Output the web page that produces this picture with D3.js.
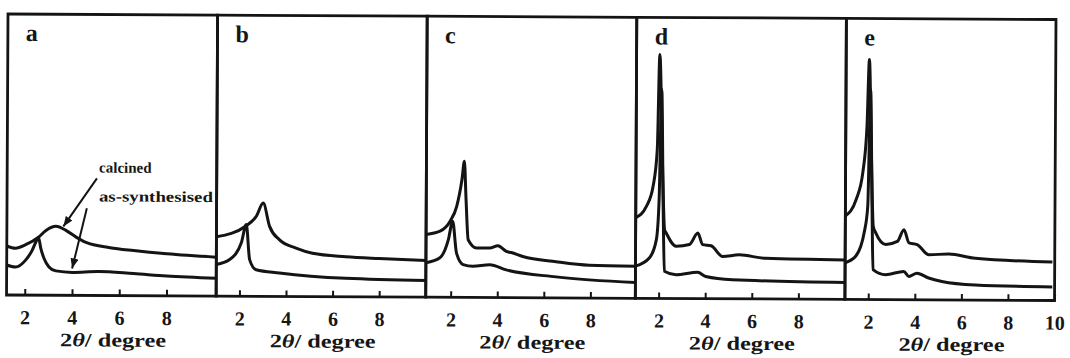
<!DOCTYPE html>
<html>
<head>
<meta charset="utf-8">
<script src="https://cdn.jsdelivr.net/npm/d3@7"></script>
<style>
  body { margin: 0; background: #fff; }
  svg text { font-family: "Liberation Serif", "Times New Roman", serif; font-weight: bold; fill: #161616; }
</style>
</head>
<body>
<div id="chart"></div>
<script>
// panels a-e, two XRD traces each (2theta in degrees, intensity in a.u.)
const panelLabels = ["a", "b", "c", "d", "e"];
const xDomains = [[1.23, 10.1], [1, 10], [0.93, 9.93], [1, 10], [1, 10]];
const xTicks = [2, 4, 6, 8];
const xTicksLast = [2, 4, 6, 8, 10];

const calcinedA = [[1.23,17.5],[1.6,16.7],[2.03,18.0],[2.57,20.7],[2.9,23.2],[3.3,24.6],[3.73,23.2],[4.16,20.8],[4.58,18.9],[5.6,17.1],[6.6,16.1],[8.0,15.0],[10.1,13.9]];
const synthA = [[1.23,10.7],[1.6,10.0],[2.03,12.5],[2.31,16.1],[2.46,19.0],[2.57,20.6],[2.67,16.7],[2.81,13.1],[3.02,10.1],[3.31,8.7],[4.0,8.2],[5.1,8.6],[6.6,7.9],[8.0,7.1],[10.1,6.4]];

const calcinedB = [[1.0,21.2],[2.28,25.2],[2.71,28.6],[3.0,33.3],[3.28,25.0],[3.71,20.2],[4.42,17.3],[5.13,15.5],[6.56,14.3],[7.98,13.7],[10.0,13.1]];
const synthB = [[1.0,11.3],[1.57,13.1],[2.07,19.1],[2.28,25.6],[2.43,13.1],[2.71,9.5],[3.71,8.4],[6.56,6.6],[10.0,6.0]];

const calcinedC = [[0.93,22.4],[1.53,23.6],[1.96,27.2],[2.24,32.5],[2.46,42.1],[2.56,48.6],[2.64,34.9],[2.74,20.6],[3.1,17.7],[3.67,17.7],[4.02,18.5],[4.38,16.5],[4.59,16.1],[5.09,14.7],[6.52,12.9],[7.94,11.7],[9.93,11.4]];
const synthC = [[0.93,12.3],[1.53,14.1],[1.89,20.6],[2.07,27.2],[2.24,15.9],[2.53,11.7],[2.95,11.1],[3.67,11.7],[4.38,9.9],[6.52,7.5],[9.93,5.6]];

const calcinedD = [[1.0,28.8],[1.46,32.9],[1.74,40.1],[1.91,53.2],[2.0,87.1],[2.14,47.2],[2.24,24.6],[2.31,23.4],[2.74,18.7],[3.31,19.3],[3.67,23.4],[3.88,19.3],[4.24,18.9],[4.74,15.1],[5.45,15.7],[6.59,14.5],[10.0,14.1]];
const synthD = [[1.0,11.5],[1.6,14.5],[1.89,21.0],[2.0,35.3],[2.09,74.6],[2.17,35.3],[2.24,9.7],[2.74,8.5],[3.67,9.4],[4.02,7.9],[5.16,6.8],[10.0,6.0]];

const calcinedE = [[1.0,29.8],[1.46,35.7],[1.74,45.3],[1.91,61.9],[2.0,85.7],[2.1,53.6],[2.2,26.2],[2.31,23.8],[2.74,19.7],[3.24,20.8],[3.52,25.0],[3.74,20.3],[4.09,19.7],[4.59,16.1],[5.45,16.4],[6.59,14.9],[9.9,13.7]];
const synthE = [[1.0,13.1],[1.46,15.5],[1.81,23.8],[1.96,33.3],[2.06,75.0],[2.14,35.0],[2.2,10.7],[2.74,8.9],[3.52,10.1],[3.74,8.3],[4.09,9.5],[4.59,7.8],[5.16,6.6],[6.59,5.4],[9.9,4.8]];

const calcined = [calcinedA, calcinedB, calcinedC, calcinedD, calcinedE];
const synthesised = [synthA, synthB, synthC, synthD, synthE];

// annotations in panel a (2theta, intensity)
const annotLabels = ["calcined", "as-synthesised"];
const annotTextAt = [[5.12, 43.9], [5.12, 33.6]];
const annotArrows = [[[5.03, 41.8], [3.62, 24.6]], [[4.61, 31.1], [4.0, 9.6]]];

const width = 1070, height = 358;
const frame = {left: 8, right: 1056, top: 14, bottom: 295};
const panelW = (frame.right - frame.left) / panelLabels.length;
const ink = '#141414';

const svg = d3.select('#chart')
  .append('svg')
    .attr('width', width)
    .attr('height', height);

svg.append('defs').append('marker')
    .attr('id', 'arrow')
    .attr('markerUnits', 'userSpaceOnUse')
    .attr('viewBox', '0 0 10 8')
    .attr('refX', 10)
    .attr('refY', 4)
    .attr('markerWidth', 10)
    .attr('markerHeight', 8)
    .attr('orient', 'auto')
  .append('path')
    .attr('d', 'M0,0 L10,4 L0,8 Z')
    .attr('fill', ink);

// the scanned figure is tilted a little clockwise
const root = svg.append('g')
    .attr('transform', `rotate(0.3, ${frame.left}, ${frame.top})`);

const y = d3.scaleLinear()
  .domain([0, 100])
  .range([frame.bottom, frame.top + 1]);

panelLabels.forEach((label, i) => {
  const x0 = frame.left + i * panelW;
  const x = d3.scaleLinear()
    .domain(xDomains[i])
    .range([x0, x0 + panelW]);

  const g = root.append('g').attr('class', 'panel');

  const line = d3.line()
    .curve(d3.curveMonotoneX)
    .x(d => x(d[0]))
    .y(d => y(d[1]));

  [calcined[i], synthesised[i]].forEach(series => {
    g.append('path')
      .datum(series)
      .attr('fill', 'none')
      .attr('stroke', ink)
      .attr('stroke-width', 3)
      .attr('stroke-linejoin', 'round')
      .attr('d', line);
  });

  g.append('rect')
    .attr('x', x0)
    .attr('y', frame.top)
    .attr('width', panelW)
    .attr('height', frame.bottom - frame.top)
    .attr('fill', 'none')
    .attr('stroke', ink)
    .attr('stroke-width', 2.8);

  const axis = g.append('g')
    .attr('transform', `translate(0,${frame.bottom})`)
    .call(d3.axisBottom(x)
      .tickValues(i === panelLabels.length - 1 ? xTicksLast : xTicks)
      .tickFormat(d3.format('d'))
      .tickSize(-6)
      .tickSizeOuter(0)
      .tickPadding(15));
  axis.select('.domain').remove();
  axis.attr('font-family', null).attr('font-size', null);
  axis.selectAll('.tick line').attr('stroke', ink).attr('stroke-width', 2);
  axis.selectAll('.tick text')
    .attr('font-size', 20)
    .attr('fill', ink);

  const title = g.append('text')
    .attr('x', x0 + panelW / 2 + 2)
    .attr('y', frame.bottom + 51)
    .attr('text-anchor', 'middle')
    .attr('font-size', 19)
    .attr('textLength', 106)
    .attr('lengthAdjust', 'spacingAndGlyphs');
  title.append('tspan').text('2');
  title.append('tspan').attr('font-style', 'italic').text('θ');
  title.append('tspan').text('/ degree');

  g.append('text')
    .attr('x', x0 + 18)
    .attr('y', frame.top + 27)
    .attr('font-size', 24)
    .text(label);

  if (i === 0) {
    annotArrows.forEach(a => {
      g.append('line')
        .attr('x1', x(a[0][0])).attr('y1', y(a[0][1]))
        .attr('x2', x(a[1][0])).attr('y2', y(a[1][1]))
        .attr('stroke', ink)
        .attr('stroke-width', 2)
        .attr('marker-end', 'url(#arrow)');
    });
    annotLabels.forEach((t, k) => {
      const txt = g.append('text')
        .attr('x', x(annotTextAt[k][0]))
        .attr('y', y(annotTextAt[k][1]))
        .attr('font-size', 15)
        .text(t);
      if (k === 1) txt.attr('textLength', 114).attr('lengthAdjust', 'spacingAndGlyphs');
    });
  }
});
</script>
</body>
</html>
